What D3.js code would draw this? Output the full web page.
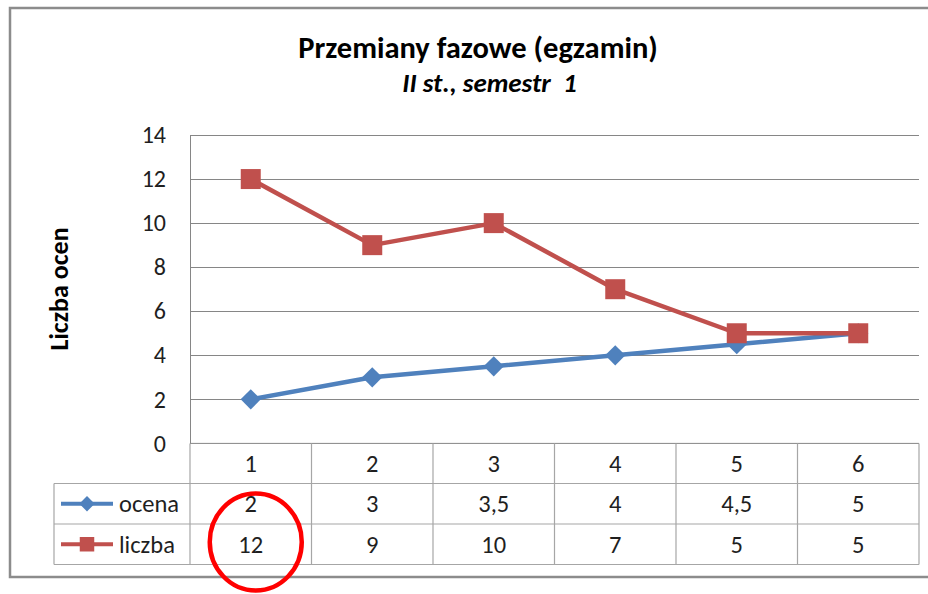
<!DOCTYPE html>
<html>
<head>
<meta charset="utf-8">
<script src="https://cdn.jsdelivr.net/npm/d3@7"></script>
<style>
  html, body { margin: 0; padding: 0; background: #fff; }
  svg { display: block; font-family: Carlito, Lato, "Liberation Sans", sans-serif; }
</style>
</head>
<body>
<svg id="chart" width="928" height="594"></svg>
<script>
// Chart data
const categories = [1, 2, 3, 4, 5, 6];
const ocena = [2, 3, 3.5, 4, 4.5, 5];
const liczba = [12, 9, 10, 7, 5, 5];
const yTicks = [0, 2, 4, 6, 8, 10, 12, 14];
const seriesNames = ["ocena", "liczba"];

const titleText = "Przemiany fazowe (egzamin)";
const subtitleText = "II st., semestr  1";
const yAxisTitle = "Liczba ocen";

const series = [
  { name: seriesNames[0], values: ocena, color: "#4F81BD", marker: "diamond" },
  { name: seriesNames[1], values: liczba, color: "#C0504D", marker: "square" }
];

// Polish number formatting (decimal comma)
const pl = d3.formatLocale({ decimal: ",", thousands: " ", grouping: [3], currency: ["", " zł"] });
const fmt = v => pl.format("~g")(v);

const svg = d3.select("#chart");
const gridColor = "#868686";
const tableColor = "#A6A6A6";
const textColor = "#1f1f1f";
const bodySize = 24.5;

// Outer chart frame (right side runs past the view)
svg.append("rect")
  .attr("x", 10).attr("y", 8).attr("width", 940).attr("height", 569)
  .attr("fill", "#fff").attr("stroke", "#8c8c8c").attr("stroke-width", 2.5);

// Plot geometry
const plotLeft = 190, plotRight = 919, plotTop = 135, plotBottom = 443.4;
const x = d3.scaleBand().domain(categories).range([plotLeft, plotRight]);
const y = d3.scaleLinear().domain([0, 14]).range([plotBottom, plotTop]);

// Titles
svg.append("text")
  .attr("x", 478).attr("y", 57.5)
  .attr("text-anchor", "middle")
  .attr("font-weight", "bold").attr("font-size", 30.5)
  .attr("fill", "#000")
  .text(titleText);
svg.append("text")
  .attr("x", 489.5).attr("y", 92)
  .attr("text-anchor", "middle")
  .attr("font-weight", "bold").attr("font-style", "italic").attr("font-size", 27)
  .attr("fill", "#000")
  .style("white-space", "pre")
  .text(subtitleText);

// Horizontal gridlines
svg.append("g").selectAll("line")
  .data(yTicks.filter(d => d > 0))
  .join("line")
  .attr("x1", plotLeft).attr("x2", plotRight)
  .attr("y1", d => Math.round(y(d)) + 0.5).attr("y2", d => Math.round(y(d)) + 0.5)
  .attr("stroke", gridColor).attr("stroke-width", 1);

// Y axis
const yAxis = d3.axisLeft(y).tickValues(yTicks).tickSize(0).tickPadding(24);
const gy = svg.append("g").attr("transform", `translate(${plotLeft},0)`).call(yAxis);
gy.select(".domain").attr("stroke", gridColor);
gy.selectAll("text")
  .attr("font-size", 24).attr("fill", textColor)
  .attr("font-family", "Carlito, Lato, sans-serif");

// Y axis title
svg.append("text")
  .attr("transform", "translate(68,289) rotate(-90)")
  .attr("text-anchor", "middle")
  .attr("font-weight", "bold").attr("font-size", 26)
  .attr("fill", "#000")
  .text(yAxisTitle);

// Data table
const rowEdges = [plotBottom, 483.5, 524, 564.5];
const legendLeft = 54;
const tbl = svg.append("g");

// Horizontal table lines
tbl.append("line")
  .attr("x1", plotLeft).attr("x2", plotRight)
  .attr("y1", rowEdges[0]).attr("y2", rowEdges[0])
  .attr("stroke", gridColor);
rowEdges.slice(1).forEach(yy => {
  tbl.append("line")
    .attr("x1", legendLeft).attr("x2", plotRight)
    .attr("y1", yy).attr("y2", yy)
    .attr("stroke", tableColor).attr("stroke-width", 1.2);
});
// Vertical table lines
[...categories.map(c => x(c)), plotRight].forEach(xx => {
  tbl.append("line")
    .attr("x1", xx).attr("x2", xx)
    .attr("y1", rowEdges[0]).attr("y2", rowEdges[3])
    .attr("stroke", tableColor).attr("stroke-width", 1.2);
});
tbl.append("line")
  .attr("x1", legendLeft).attr("x2", legendLeft)
  .attr("y1", rowEdges[1]).attr("y2", rowEdges[3])
  .attr("stroke", tableColor).attr("stroke-width", 1.2);

const rowMid = i => (rowEdges[i] + rowEdges[i + 1]) / 2;

// Header row: category labels
tbl.append("g").selectAll("text")
  .data(categories)
  .join("text")
  .attr("x", d => x(d) + x.bandwidth() / 2)
  .attr("y", rowMid(0))
  .attr("dy", "0.35em")
  .attr("text-anchor", "middle")
  .attr("font-size", bodySize).attr("fill", textColor)
  .text(d => d);

// Marker shapes
const diamond = d3.symbol().type(d3.symbolDiamond2).size(260);
const square = d3.symbol().type(d3.symbolSquare).size(400);
const markerPath = m => m === "diamond" ? diamond() : square();

// Series rows with legend keys
series.forEach((s, i) => {
  const cy = rowMid(i + 1);
  tbl.append("line")
    .attr("x1", 61).attr("x2", 113)
    .attr("y1", cy).attr("y2", cy)
    .attr("stroke", s.color).attr("stroke-width", 4);
  tbl.append("path")
    .attr("d", s.marker === "diamond" ? d3.symbol().type(d3.symbolDiamond2).size(150)() : d3.symbol().type(d3.symbolSquare).size(210)())
    .attr("transform", `translate(87,${cy})`)
    .attr("fill", s.color);
  tbl.append("text")
    .attr("x", 119).attr("y", cy).attr("dy", "0.35em")
    .attr("font-size", bodySize).attr("fill", textColor)
    .text(s.name);
  tbl.append("g").selectAll("text")
    .data(s.values)
    .join("text")
    .attr("x", (d, j) => x(categories[j]) + x.bandwidth() / 2)
    .attr("y", cy).attr("dy", "0.35em")
    .attr("text-anchor", "middle")
    .attr("font-size", bodySize).attr("fill", textColor)
    .text(d => fmt(d));
});

// Lines and markers
const line = d3.line()
  .x((d, j) => x(categories[j]) + x.bandwidth() / 2)
  .y(d => y(d));

series.forEach(s => {
  const g = svg.append("g");
  g.append("path")
    .datum(s.values)
    .attr("d", line)
    .attr("fill", "none")
    .attr("stroke", s.color).attr("stroke-width", 4.5)
    .attr("stroke-linejoin", "round");
  g.selectAll("path.marker")
    .data(s.values)
    .join("path")
    .attr("class", "marker")
    .attr("d", markerPath(s.marker))
    .attr("transform", (d, j) => `translate(${x(categories[j]) + x.bandwidth() / 2},${y(d)})`)
    .attr("fill", s.color);
});

// Red highlight circle around the first "liczba" value
const hx = x(categories[0]) + x.bandwidth() / 2 + 5;
svg.append("ellipse")
  .attr("cx", hx).attr("cy", 542)
  .attr("rx", 46).attr("ry", 48.5)
  .attr("fill", "none")
  .attr("stroke", "#FF0000").attr("stroke-width", 4.5);
</script>
</body>
</html>
